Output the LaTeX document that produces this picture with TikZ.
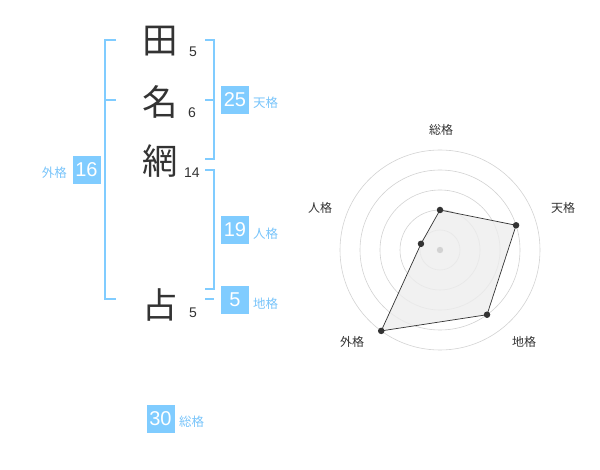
\documentclass[tikz,border=0pt]{standalone}
\usepackage{fontspec}
\usetikzlibrary{calc}
\setmainfont{Liberation Sans}
\newfontfamily\jp{Noto Sans CJK JP}
\definecolor{bl}{RGB}{128,204,255}
\definecolor{bltext}{RGB}{120,196,250}
\definecolor{ink}{RGB}{51,51,51}
\definecolor{gridc}{RGB}{210,210,210}
\begin{document}
\begin{tikzpicture}[x=1pt,y=-1pt,
  kanji/.style={font=\jp\fontsize{35.5}{35.5}\selectfont,text=ink,inner sep=0pt},
  strokes/.style={font=\fontsize{14}{14}\selectfont,text=ink,inner sep=0pt},
  numbox/.style={fill=bl,text=white,minimum width=28pt,minimum height=28pt,inner sep=0pt,font=\fontsize{20}{20}\selectfont},
  lab/.style={text=bltext,font=\jp\fontsize{12.5}{12.5}\selectfont,inner sep=0pt},
  brk/.style={draw=bl,line width=1.6pt},
  rlab/.style={text=ink,font=\jp\fontsize{12}{12}\selectfont,inner sep=0pt},
  gridring/.style={draw=gridc,line width=0.6pt},
  pt/.style={circle,fill=ink,inner sep=0pt,minimum size=6.5pt}]
\useasboundingbox (0,0) rectangle (600,470);
% name characters
\node[kanji] (k1) at (160,41) {田};
\node[kanji] (k2) at (160,102) {名};
\node[kanji] (k3) at (160,161) {網};
\node[kanji] (k4) at (160,305) {占};
\node[strokes] (s1) at (193,52) {5};
\node[strokes] (s2) at (192,113) {6};
\node[strokes] (s3) at (192,173) {14};
\node[strokes] (s4) at (193,313) {5};
% brackets
\draw[brk] (116,40) -- (105,40) -- (105,299) -- (116,299);
\draw[brk] (105,100) -- (116,100);
\draw[brk] (205,40) -- (214,40) -- (214,159) -- (205,159);
\draw[brk] (205,100) -- (214,100);
\draw[brk] (205,170) -- (214,170) -- (214,289) -- (205,289);
\draw[brk] (205,299) -- (214,299);
% boxes
\node[numbox] (b25) at (235,100) {25};
\node[lab,anchor=west] (l25) at (253,103) {天格};
\node[numbox] (b19) at (235,230) {19};
\node[lab,anchor=west] (l19) at (253,234) {人格};
\node[numbox] (b5) at (235,300) {5};
\node[lab,anchor=west] (l5) at (253,304) {地格};
\node[numbox] (b16) at (86.5,170) {16};
\node[lab,anchor=east] (l16) at (67,173) {外格};
\node[numbox] (b30) at (160.5,419) {30};
\node[lab,anchor=west] (l30) at (179,422) {総格};
% radar
\coordinate (c) at (440,250);
\foreach \r in {20,40,60,80,100} \draw[gridring] (c) circle[radius=\r];
\coordinate (p1) at ($(c)+(0,-40)$);
\path (c) ++(-18:80) coordinate (p2);
\path (c) ++(54:80) coordinate (p3);
\path (c) ++(126:100) coordinate (p4);
\path (c) ++(198:20) coordinate (p5);
\filldraw[fill=black!7,fill opacity=0.8,draw=ink,line width=0.7pt] (p1) -- (p2) -- (p3) -- (p4) -- (p5) -- cycle;
\fill[gridc] (c) circle[radius=3.2];
\foreach \p in {p1,p2,p3,p4,p5} \node[pt] at (\p) {};
\node[rlab] (r1) at (441,130) {総格};
\node[rlab] (r2) at (563,208) {天格};
\node[rlab] (r3) at (524,342) {地格};
\node[rlab] (r4) at (352,342) {外格};
\node[rlab] (r5) at (320,208) {人格};
\end{tikzpicture}
\end{document}
